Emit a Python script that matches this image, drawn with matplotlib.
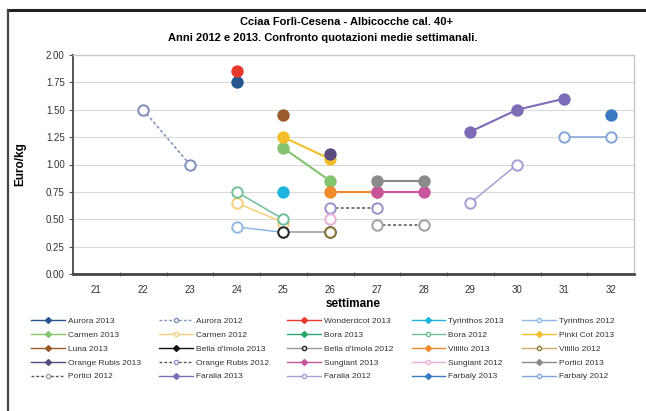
import matplotlib
matplotlib.use("Agg")
import matplotlib.pyplot as plt
import numpy as np
from matplotlib.lines import Line2D

plt.rcParams['font.family'] = ['Liberation Sans', 'DejaVu Sans']

weeks = [21, 22, 23, 24, 25, 26, 27, 28, 29, 30, 31, 32]

series_names = [
    "Aurora 2013", "Aurora 2012", "Wonderdcot 2013", "Tyrinthos 2013", "Tyrinthos 2012",
    "Carmen 2013", "Carmen 2012", "Bora 2013", "Bora 2012", "Pinki Cot 2013",
    "Luna 2013", "Bella d'Imola 2013", "Bella d'Imola 2012", "Vitillo 2013", "Vitillo 2012",
    "Orange Rubis 2013", "Orange Rubis 2012", "Sungiant 2013", "Sungiant 2012", "Portici 2013",
    "Portici 2012", "Faralia 2013", "Faralia 2012", "Farbaly 2013", "Farbaly 2012",
]

N = None
# prezzi medi settimanali (Euro/kg), una riga per serie, colonne = settimane 21..32
prices = [
    [N, N, N, 1.75, N, N, N, N, N, N, N, N],
    [N, 1.50, 1.00, N, N, N, N, N, N, N, N, N],
    [N, N, N, 1.85, N, N, N, N, N, N, N, N],
    [N, N, N, N, 0.75, N, N, N, N, N, N, N],
    [N, N, N, 0.43, 0.38, N, N, N, N, N, N, N],
    [N, N, N, N, 1.15, 0.85, N, N, N, N, N, N],
    [N, N, N, 0.65, 0.47, N, N, N, N, N, N, N],
    [N, N, N, N, N, N, N, N, N, N, N, N],
    [N, N, N, 0.75, 0.50, N, N, N, N, N, N, N],
    [N, N, N, N, 1.25, 1.05, N, N, N, N, N, N],
    [N, N, N, N, 1.45, N, N, N, N, N, N, N],
    [N, N, N, N, N, N, N, N, N, N, N, N],
    [N, N, N, N, 0.38, 0.38, N, N, N, N, N, N],
    [N, N, N, N, N, 0.75, 0.75, N, N, N, N, N],
    [N, N, N, N, N, 0.38, N, N, N, N, N, N],
    [N, N, N, N, N, 1.10, N, N, N, N, N, N],
    [N, N, N, N, N, 0.60, 0.60, N, N, N, N, N],
    [N, N, N, N, N, N, 0.75, 0.75, N, N, N, N],
    [N, N, N, N, N, 0.50, N, N, N, N, N, N],
    [N, N, N, N, N, N, 0.85, 0.85, N, N, N, N],
    [N, N, N, N, N, N, 0.45, 0.45, N, N, N, N],
    [N, N, N, N, N, N, N, N, 1.30, 1.50, 1.60, N],
    [N, N, N, N, N, N, N, N, 0.65, 1.00, N, N],
    [N, N, N, N, N, N, N, N, N, N, N, 1.45],
    [N, N, N, N, N, N, N, N, N, N, 1.25, 1.25],
]

colors = [
    "#24558f", "#7d8fb8", "#e8382b", "#1fb3df", "#8fb8e6",
    "#84c46e", "#f7cf7a", "#2ba56e", "#6fbf98", "#f2bf2a",
    "#9a5a2c", "#111111", "#9a9a9a", "#f08a2a", "#c9b06a",
    "#5b4a7e", "#9d8fcc", "#c8559c", "#eab0da", "#8a8a8a",
    "#a0a0a0", "#7d6bb8", "#aa9cd6", "#3a7ac2", "#7fa6da",
]
dashed = {"Aurora 2012", "Orange Rubis 2012", "Portici 2012"}
marker_edges = {12: "#222222", 14: "#8a7a3a"}

fig = plt.figure(figsize=(6.46, 4.11), dpi=100)
ax = fig.add_axes([73 / 646, 1 - 274 / 411, (634 - 73) / 646, (274 - 55) / 411])

x = np.arange(len(weeks))
handles = []
for i, (name, vals, col) in enumerate(zip(series_names, prices, colors)):
    y = np.array([np.nan if v is None else v for v in vals], dtype=float)
    old = name.endswith("2012")
    ls = (0, (2, 1.5)) if name in dashed else "-"
    face = "white" if old else col
    edge = marker_edges.get(i, col)
    line_col = "#555555" if i in (16, 20) else col
    ax.plot(x, y, color=line_col, linestyle=ls, linewidth=1.1 if old else 1.5, zorder=3)
    ax.plot(x, y, linestyle="none", marker="o", markersize=7.5,
            markerfacecolor=face, markeredgecolor=edge, markeredgewidth=1.4, zorder=4)
    handles.append(Line2D([], [], color=line_col, linestyle=ls, linewidth=1.0,
                          marker="D" if not old else "o", markersize=3,
                          markerfacecolor=face, markeredgecolor=edge))

ax.set_xlim(-0.5, len(weeks) - 0.5)
ax.set_ylim(0, 2.0)
ax.set_yticks(np.arange(0, 2.01, 0.25))
ax.set_yticklabels([f"{v:.2f}" for v in np.arange(0, 2.01, 0.25)], fontsize=7, color="#333333")
ax.set_xticks(x)
ax.set_xticklabels(weeks, fontsize=7, color="#333333")
ax.set_xticks(np.arange(0.5, len(weeks) - 1, 1), minor=True)
ax.tick_params(axis="x", which="major", length=0, pad=8)
ax.tick_params(axis="x", which="minor", length=3, direction="inout", color="#555555")
ax.tick_params(axis="y", length=3, color="#555555", pad=3)
ax.grid(axis="y", color="#d9d9d9", linewidth=0.8, zorder=0)
ax.set_axisbelow(True)
for side in ("top", "right"):
    ax.spines[side].set_color("#c8c8c8")
    ax.spines[side].set_linewidth(1.0)
ax.spines["left"].set_color("#555555")
ax.spines["left"].set_linewidth(1.4)
ax.spines["bottom"].set_color("#444444")
ax.spines["bottom"].set_linewidth(2.0)

ax.set_ylabel("Euro/kg", fontsize=8.5, fontweight="bold", labelpad=14)
ax.set_xlabel("settimane", fontsize=8.5, fontweight="bold", labelpad=2)
fig.text(347 / 646, 1 - 22 / 411, "Cciaa Forlì-Cesena - Albicocche cal. 40+",
         ha="center", va="center", fontsize=8, fontweight="bold")
fig.text(323 / 646, 1 - 38 / 411, "Anni 2012 e 2013. Confronto quotazioni medie settimanali.",
         ha="center", va="center", fontsize=8, fontweight="bold")

# legenda in ordine per riga (matplotlib riempie per colonna)
order = [r * 5 + c for c in range(5) for r in range(5)]
leg = fig.legend([handles[k] for k in order], [series_names[k] for k in order],
                 ncol=5, loc="upper left", bbox_to_anchor=(28 / 646, 1 - 314 / 411),
                 fontsize=6, frameon=False, handlelength=4.0, handletextpad=0.4,
                 columnspacing=2.2, labelspacing=0.72, borderaxespad=0)
for t in leg.get_texts():
    t.set_color("#333333")

# cornice esterna del grafico
fig.add_artist(Line2D([8 / 646, 1], [1 - 10 / 411, 1 - 10 / 411], color="#222222", linewidth=2.2))
fig.add_artist(Line2D([8 / 646, 8 / 646], [0, 1 - 10 / 411], color="#444444", linewidth=1.6))

fig.savefig("out.png", dpi=100)
